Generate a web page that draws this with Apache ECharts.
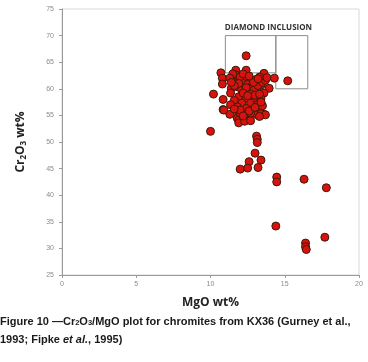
<!DOCTYPE html>
<html>
<head>
<meta charset="utf-8">
<script src="https://cdn.jsdelivr.net/npm/echarts@6/dist/echarts.min.js"></script>
<style>
  html, body { margin: 0; padding: 0; background: #fff; }
  #chart { width: 368px; height: 362px; }
</style>
</head>
<body>
<div id="chart"></div>
<script>
// chromite analyses, MgO wt% vs Cr2O3 wt%
const clusterPoints = [
    [10.7, 63.0], [10.8, 62.0], [10.8, 60.9], [10.2, 59.0], [10.85, 58.0], [10.85, 56.1],
    [11.3, 55.2], [11.7, 63.5], [12.4, 63.5], [13.6, 62.9], [11.5, 61.5], [11.7, 62.6],
    [12.0, 61.7], [12.4, 62.0], [12.7, 61.3], [13.0, 61.7], [13.4, 60.7], [13.95, 60.1],
    [11.4, 60.1], [11.8, 60.4], [12.1, 59.8], [12.5, 59.5], [12.8, 59.2], [13.15, 59.5],
    [13.6, 59.2], [11.35, 59.2], [11.9, 58.5], [12.4, 58.2], [12.9, 58.2], [13.4, 58.2],
    [11.6, 57.8], [12.1, 57.3], [12.7, 57.3], [13.15, 57.0], [11.8, 56.6], [12.4, 56.3],
    [12.8, 56.0], [13.3, 56.0], [11.35, 57.0], [11.9, 55.4], [12.4, 55.1], [13.15, 55.1],
    [13.6, 55.2], [11.8, 54.5], [12.6, 54.5], [10.9, 56.0], [12.0, 55.4], [12.7, 55.4],
    [13.4, 55.3], [13.7, 55.1], [11.9, 54.1], [12.3, 54.3],
    [12.2, 61.0], [12.5, 60.8], [12.8, 60.5], [13.0, 60.2], [12.6, 60.0], [12.9, 59.7],
    [13.2, 60.6], [12.4, 60.2], [12.7, 59.0], [13.0, 58.8], [13.3, 59.0], [12.2, 59.2],
    [12.5, 58.7], [13.5, 61.2], [13.7, 61.6], [12.0, 62.3], [12.2, 62.8], [11.5, 62.8],
    [11.3, 62.0], [13.3, 62.2], [13.8, 62.1], [11.9, 61.0], [11.6, 60.6], [11.4, 61.2],
    [12.9, 61.2], [13.2, 61.9], [12.6, 62.4],
    [12.0, 56.0], [12.6, 55.8], [13.0, 56.5], [13.5, 56.8], [13.4, 57.5], [11.6, 56.2],
    [11.9, 53.6], [12.3, 53.9], [12.7, 54.0], [13.3, 54.8], [12.2, 54.9]
];
const outlierPoints = [
    [12.4, 66.2], [14.3, 62.0], [15.2, 61.5], [10.0, 52.0],
    [13.1, 51.1], [13.15, 50.5], [13.15, 49.9], [13.0, 47.9],
    [12.6, 46.3], [13.4, 46.6], [12.0, 44.9], [12.5, 45.1], [13.2, 45.2],
    [14.46, 43.4], [14.46, 42.5], [16.3, 43.0], [17.8, 41.4],
    [14.4, 34.2], [17.7, 32.1], [16.4, 31.0], [16.4, 30.3], [16.45, 29.8]
];
// diamond inclusion fields: [MgO min, Cr2O3 min], [MgO max, Cr2O3 max]
const inclusionBoxes = [
    [[11.0, 63.0], [14.4, 70.0]],
    [[14.4, 60.0], [16.55, 70.0]]
];
const boxLabel = 'DIAMOND INCLUSION';
const xTicks = { min: 0, max: 20, interval: 5 };
const yTicks = { min: 25, max: 75, interval: 5 };

const chart = echarts.init(document.getElementById('chart'), null, { renderer: 'canvas' });

const tickLabel = { color: '#8a8a8a', fontSize: 7, fontFamily: 'Liberation Sans' };
const axisLine = { show: true, lineStyle: { color: '#9a9a9a', width: 1 } };

chart.setOption({
    animation: false,
    backgroundColor: '#fff',
    grid: {
        left: 62, right: 9, top: 9, bottom: 87,
        show: true, borderColor: '#d8d8d8', borderWidth: 1
    },
    xAxis: {
        type: 'value',
        min: xTicks.min, max: xTicks.max, interval: xTicks.interval,
        axisLine: axisLine,
        axisTick: { show: true, length: 3, lineStyle: { color: '#9a9a9a' } },
        axisLabel: Object.assign({ margin: 6 }, tickLabel),
        splitLine: { show: false },
        name: 'MgO wt%',
        nameLocation: 'middle',
        nameGap: 22,
        nameTextStyle: { fontFamily: 'Open Sans', fontWeight: 'bold', fontSize: 12, color: '#222' }
    },
    yAxis: {
        type: 'value',
        min: yTicks.min, max: yTicks.max, interval: yTicks.interval,
        axisLine: axisLine,
        axisTick: { show: true, length: 3, lineStyle: { color: '#9a9a9a' } },
        axisLabel: Object.assign({ margin: 8 }, tickLabel),
        splitLine: { show: false },
        name: '{a|Cr}{s|2}{a|O}{s|3}{a| wt%}',
        nameLocation: 'middle',
        nameGap: 34,
        nameRotate: 90,
        nameTextStyle: {
            rich: {
                a: { fontFamily: 'Open Sans', fontWeight: 'bold', fontSize: 12, color: '#222' },
                s: { fontFamily: 'Open Sans', fontWeight: 'bold', fontSize: 8, color: '#222', verticalAlign: 'bottom', padding: [6, 0, 0, 0] }
            }
        }
    },
    series: [
        {
            type: 'scatter',
            data: clusterPoints.concat(outlierPoints),
            symbolSize: 8,
            itemStyle: { color: '#d8120e', borderColor: '#3e1a08', borderWidth: 1, opacity: 1 },
            markArea: {
                silent: true,
                itemStyle: { color: 'rgba(0,0,0,0)', borderColor: '#8c8c8c', borderWidth: 1 },
                data: inclusionBoxes.map((b, i) => [
                    {
                        coord: b[0],
                        label: i === 0 ? {
                            show: true, formatter: boxLabel, position: [0, -11],
                            fontFamily: 'Open Sans', fontWeight: 'bold', fontSize: 8, color: '#333'
                        } : { show: false }
                    },
                    { coord: b[1] }
                ])
            }
        }
    ],
    graphic: [
        {
            type: 'text', left: 0, top: 316,
            style: {
                text: '{b|Figure 10 —Cr}{bs|2}{b|O}{bs|3}{b|/MgO plot for chromites from KX36 (Gurney et al.,}',
                rich: {
                    b: { fontFamily: 'Liberation Sans', fontWeight: 'bold', fontSize: 11, fill: '#1a1a1a' },
                    bs: { fontFamily: 'Liberation Sans', fontWeight: 'bold', fontSize: 7.5, fill: '#1a1a1a', padding: [3, 0, 0, 0] }
                }
            }
        },
        {
            type: 'text', left: 0, top: 334,
            style: {
                text: '{b|1993; Fipke }{i|et al.}{b|, 1995)}',
                rich: {
                    b: { fontFamily: 'Liberation Sans', fontWeight: 'bold', fontSize: 11, fill: '#1a1a1a' },
                    i: { fontFamily: 'Liberation Sans', fontWeight: 'bold', fontStyle: 'italic', fontSize: 11, fill: '#1a1a1a' }
                }
            }
        }
    ]
});
</script>
</body>
</html>
